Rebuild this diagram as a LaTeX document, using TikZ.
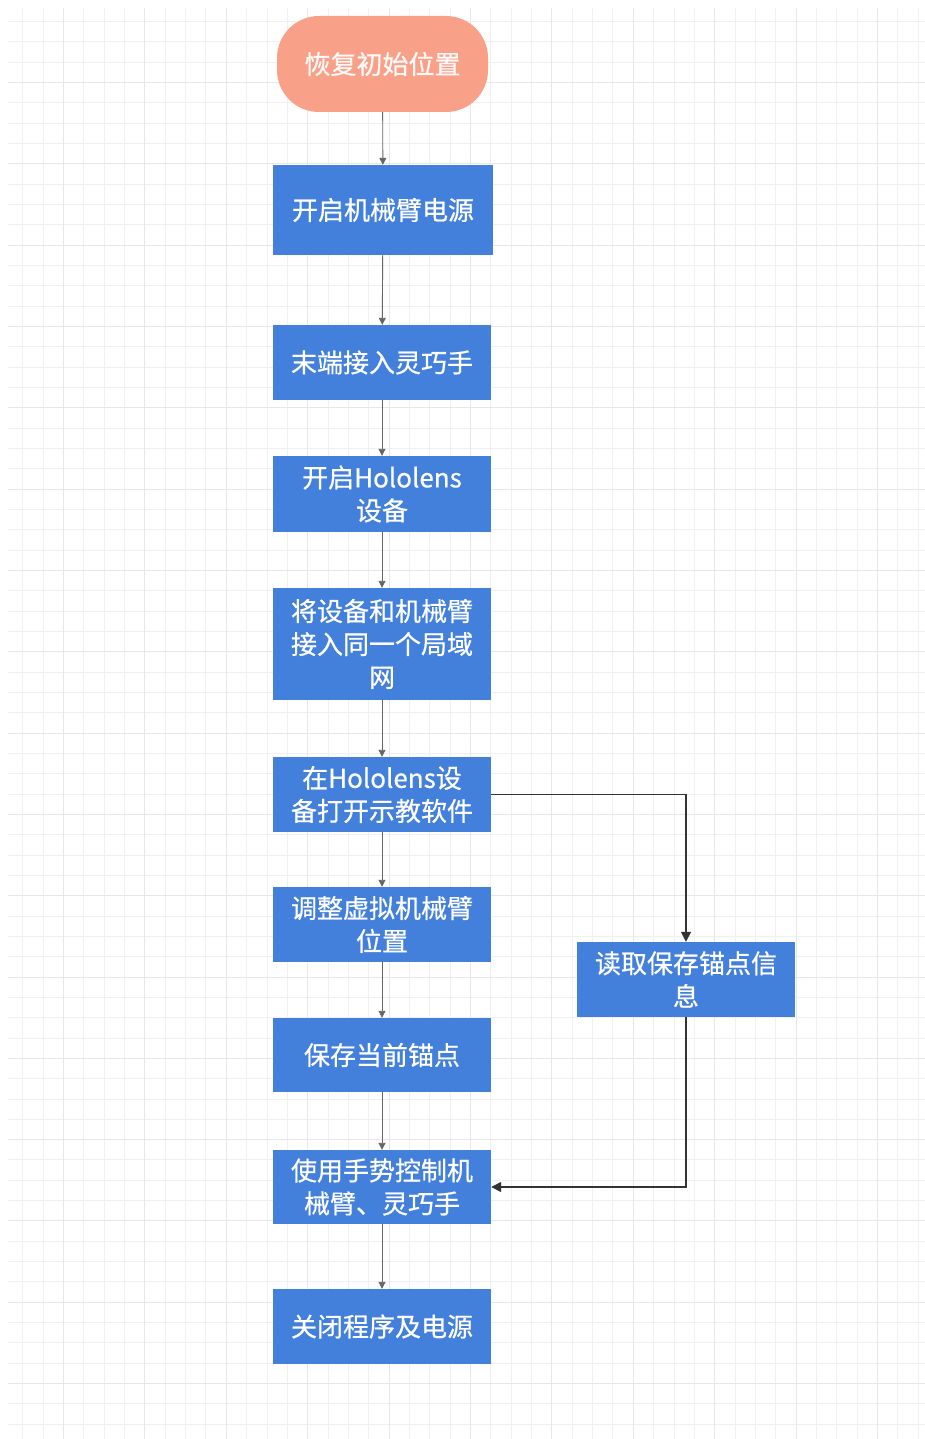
\documentclass[tikz,border=0pt]{standalone}
\usepackage{fontspec}
\newfontfamily\cjk[FakeBold=0.6]{Noto Sans CJK SC}
\usetikzlibrary{arrows.meta}
\definecolor{boxblue}{HTML}{4280DC}
\definecolor{salmon}{HTML}{F9A088}
\definecolor{gridminor}{HTML}{F0F0F0}
\definecolor{gridmajor}{HTML}{E7E7E7}
\tikzset{
  stepbox/.style={draw=none, fill=boxblue, text=white, minimum width=218pt,
    align=center, inner sep=0pt, font=\cjk\fontsize{26}{33}\selectfont},
  startbox/.style={stepbox, fill=salmon, text=white!95!salmon, rounded corners=42pt, minimum width=211pt, minimum height=96pt},
  flow/.style={draw=gray!80!black, line width=0.9pt, -{Triangle[width=7pt,length=7pt]}},
  sideflow/.style={draw=black!80, line width=1.4pt, -{Triangle[width=10pt,length=10pt]}}
}
\begin{document}
\begin{tikzpicture}[x=1pt,y=-1pt]
\useasboundingbox (0,0) rectangle (925,1439);
\fill[white] (0,0) rectangle (925,1439);
% grid
\foreach \i in {-2,...,42} {
  \pgfmathsetmacro{\gx}{round(63+20.35*\i)+0.5}
  \ifdim\gx pt>7pt \ifdim\gx pt<925pt
    \draw[gridminor, line width=1pt] (\gx,8) -- (\gx,1439);
  \fi\fi
}
\foreach \i in {-4,...,70} {
  \pgfmathsetmacro{\gy}{round(82+20.33*\i)+0.5}
  \ifdim\gy pt>7pt \ifdim\gy pt<1439pt
    \draw[gridminor, line width=1pt] (8,\gy) -- (925,\gy);
  \fi\fi
}
\foreach \i in {0,...,11} {
  \pgfmathsetmacro{\gx}{round(63+81.4*\i)+0.5}
  \ifdim\gx pt<925pt
    \draw[gridmajor, line width=1pt] (\gx,8) -- (\gx,1439);
  \fi
}
\foreach \i in {0,...,17} {
  \pgfmathsetmacro{\gy}{round(82+81.32*\i)+0.5}
  \ifdim\gy pt<1439pt
    \draw[gridmajor, line width=1pt] (8,\gy) -- (925,\gy);
  \fi
}
% nodes
\node[startbox] (s) at (382.5,64) {恢复初始位置};
\node[stepbox, minimum width=220pt, minimum height=90pt] (b1) at (383,210) {开启机械臂电源};
\node[stepbox, minimum height=75pt] (b2) at (382,362.5) {末端接入灵巧手};
\node[stepbox, minimum height=76pt] (b3) at (382,494) {开启Hololens\\设备};
\node[stepbox, minimum height=112pt] (b4) at (382,644) {将设备和机械臂\\接入同一个局域\\网};
\node[stepbox, minimum height=75pt] (b5) at (382,794.5) {在Hololens设\\备打开示教软件};
\node[stepbox, minimum height=75pt] (b6) at (382,924.5) {调整虚拟机械臂\\位置};
\node[stepbox, minimum height=74pt] (b7) at (382,1055) {保存当前锚点};
\node[stepbox, minimum height=74pt] (b8) at (382,1187) {使用手势控制机\\械臂、灵巧手};
\node[stepbox, minimum height=75pt] (b9) at (382,1326.5) {关闭程序及电源};
\node[stepbox, minimum height=75pt] (r) at (686,979.5) {读取保存锚点信\\息};
% connectors
\draw[flow] (s) -- (b1);
\draw[flow] (b1) -- (b2);
\draw[flow] (b2) -- (b3);
\draw[flow] (b3) -- (b4);
\draw[flow] (b4) -- (b5);
\draw[flow] (b5) -- (b6);
\draw[flow] (b6) -- (b7);
\draw[flow] (b7) -- (b8);
\draw[flow] (b8) -- (b9);
\draw[sideflow] (b5.east) -| (r.north);
\draw[sideflow] (r.south) |- (b8.east);
\end{tikzpicture}
\end{document}
